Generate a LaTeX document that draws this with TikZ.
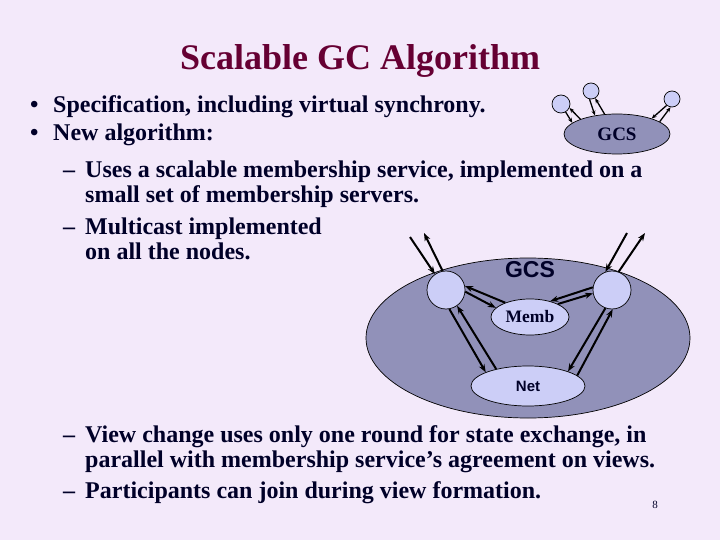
\documentclass[tikz,border=0pt]{standalone}
\usepackage{fontspec}
\setmainfont{Liberation Serif}
\newfontfamily\sansf{Liberation Sans}
\usetikzlibrary{arrows.meta,shapes.geometric}
\definecolor{bg}{RGB}{243,233,250}
\definecolor{titlec}{RGB}{102,0,51}
\definecolor{txt}{RGB}{0,0,40}
\definecolor{bigfill}{RGB}{145,145,185}
\definecolor{lightfill}{RGB}{204,206,247}
\begin{document}
\begin{tikzpicture}[x=1pt,y=-1pt,
  line/.style={anchor=base west,inner sep=0,font=\bfseries\fontsize{24}{28}\selectfont,text=txt},
  ell/.style={ellipse,draw=black,line width=0.7pt},
  circ/.style={circle,draw=black,fill=lightfill,line width=0.7pt,inner sep=0},
  arr/.style={-{Stealth[length=8pt,width=6pt]},line width=2pt},
  sarr/.style={-{Stealth[length=5pt,width=4pt]},line width=1.3pt}]
\fill[bg] (0,0) rectangle (720,540);
\useasboundingbox (0,0) rectangle (720,540);
\node[anchor=base,text=titlec,font=\bfseries\fontsize{36}{40}\selectfont] (title) at (360,70) {Scalable GC Algorithm};
\node[line] (b1) at (30,113) {•};
\node[line] (t1) at (53,113) {Specification, including virtual synchrony.};
\node[line] (b2) at (30,141) {•};
\node[line] (t2) at (53,141) {New algorithm:};
\node[line] (d1) at (63,178) {–};
\node[line] (t3) at (85,178) {Uses a scalable membership service, implemented on a};
\node[line] (t4) at (85,203) {small set of membership servers.};
\node[line] (d2) at (63,234) {–};
\node[line] (t5) at (85,234) {Multicast implemented};
\node[line] (t6) at (85,259) {on all the nodes.};
\node[line] (d3) at (63,442) {–};
\node[line] (t7) at (85,442) {View change uses only one round for state exchange, in};
\node[line] (t8) at (85,467) {parallel with membership service’s agreement on views.};
\node[line] (d4) at (63,498) {–};
\node[line] (t9) at (85,498) {Participants can join during view formation.};
\node[anchor=base,text=txt,font=\fontsize{11}{12}\selectfont] (pg) at (655,508) {8};

% big diagram
\node[ell,fill=bigfill,minimum width=324,minimum height=160] (big) at (528,338) {};
\node[font=\sansf\bfseries\fontsize{23}{26}\selectfont,text=txt] (gcs) at (530,270) {GCS};
\node[circ,minimum size=38] (L) at (446,290) {};
\node[circ,minimum size=38] (R) at (612,290) {};
\node[ell,fill=lightfill,minimum width=78,minimum height=36,inner sep=0,font=\bfseries\fontsize{17.5}{20}\selectfont,text=txt] (M) at (530,317) {Memb};
\node[ell,fill=lightfill,minimum width=114,minimum height=40,inner sep=0,font=\sansf\bfseries\fontsize{15}{18}\selectfont,text=txt] (N) at (528,386) {Net};
\coordinate (lo1) at (410,237);
\coordinate (lo2) at (424,233);
\coordinate (ro1) at (627,233);
\coordinate (ro2) at (645,233);
\draw[arr] (lo1) -- (L.125);
\draw[arr] (L.100) -- (lo2);
\draw[arr] (ro1) -- (R.110);
\draw[arr] (R.70) -- (ro2);
\draw[arr] (M.150) -- (L.12);
\draw[arr] (L.-5) -- (M.165);
\draw[arr] (M.25) -- (R.190);
\draw[arr] (R.172) -- (M.38);
\draw[arr] (L.-80) -- (N.162);
\draw[arr] (N.152) -- (L.-55);
\draw[arr] (R.-110) -- (N.20);
\draw[arr] (N.12) -- (R.-88);

% small diagram
\node[ell,fill=bigfill,minimum width=106,minimum height=40,font=\bfseries\fontsize{19}{22}\selectfont,text=txt] (g) at (617,134) {GCS};
\node[circ,minimum size=18] (c1) at (561,104) {};
\node[circ,minimum size=16] (c2) at (591,91) {};
\node[circ,minimum size=16] (c3) at (672,99) {};
\draw[sarr] (c1.-60) -- (g.166);
\draw[sarr] (g.158) -- (c1.-25);
\draw[sarr] (c2.-100) -- (g.140);
\draw[sarr] (g.122) -- (c2.-60);
\draw[sarr] (c3.-130) -- (g.24);
\draw[sarr] (g.16) -- (c3.-100);
\end{tikzpicture}
\end{document}
